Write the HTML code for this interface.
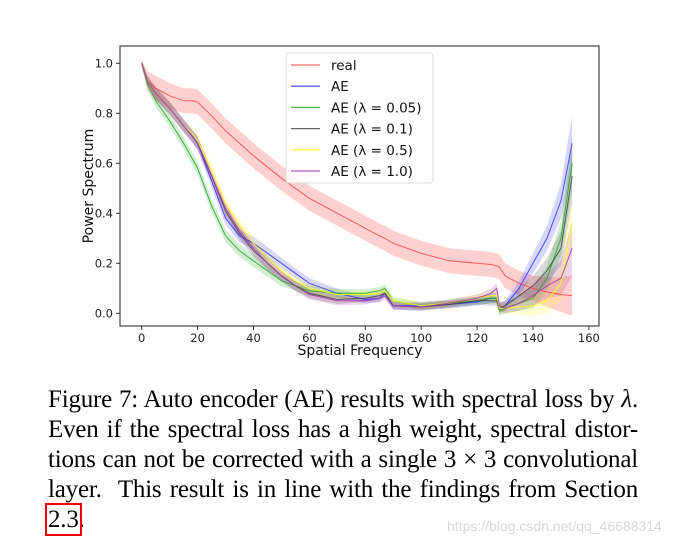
<!DOCTYPE html>
<html><head><meta charset="utf-8"><style>
body{margin:0;background:#fff;width:690px;height:550px;overflow:hidden;position:relative}
svg{position:absolute;left:0;top:0}
.cap{position:absolute;left:48px;width:590px;font-family:"Liberation Serif",serif;font-size:25px;color:#000}
.ln{height:30px;line-height:30px;text-align:justify;text-align-last:justify;white-space:nowrap;letter-spacing:-0.2px}
.ln.last{text-align-last:left}
</style></head><body>
<svg id="chart" width="690" height="380"></svg>
<div class="cap" style="top:385px">
<div class="ln">Figure 7: Auto encoder (AE) results with spectral loss by <i>λ</i>.</div>
<div class="ln">Even if the spectral loss has a high weight, spectral distor-</div>
<div class="ln">tions can not be corrected with a single 3 × 3 convolutional</div>
<div class="ln">layer.&nbsp; This result is in line with the findings from Section</div>
<div class="ln last"><span style="outline:2px solid #e00;outline-offset:1px">2.3</span>.</div>
</div>
<div style="position:absolute;left:447px;top:518px;font-family:'Liberation Sans',sans-serif;font-size:14px;color:#d8d8d8">https://blog.csdn.net/qq_46688314</div>
<script>
const freqs=[0,2,5,10,15,18,20,25,30,35,40,45,50,55,60,70,80,85,87,90,100,110,120,125,127,128,130,135,140,145,150,154];
const realVals=[1.0,0.93,0.9,0.87,0.85,0.85,0.845,0.79,0.73,0.68,0.63,0.585,0.54,0.5,0.46,0.40,0.34,0.31,0.30,0.28,0.24,0.21,0.2,0.195,0.19,0.185,0.15,0.12,0.1,0.085,0.075,0.07];
const realSpread=[0.01,0.04,0.05,0.05,0.05,0.05,0.05,0.05,0.05,0.05,0.05,0.05,0.05,0.05,0.05,0.05,0.05,0.05,0.05,0.05,0.05,0.05,0.05,0.05,0.05,0.05,0.05,0.05,0.05,0.06,0.07,0.08];
const aeVals=[1.0,0.93,0.88,0.82,0.75,0.71,0.68,0.53,0.38,0.31,0.28,0.24,0.2,0.16,0.12,0.08,0.055,0.06,0.08,0.03,0.03,0.035,0.045,0.06,0.06,0.02,0.03,0.1,0.2,0.3,0.45,0.68];
const ae005Vals=[1.0,0.92,0.85,0.77,0.68,0.62,0.58,0.43,0.31,0.25,0.21,0.17,0.13,0.11,0.09,0.08,0.08,0.09,0.1,0.05,0.03,0.04,0.05,0.06,0.06,0.01,0.02,0.04,0.06,0.14,0.3,0.6];
const ae01Vals=[1.0,0.93,0.88,0.82,0.75,0.71,0.68,0.55,0.41,0.32,0.25,0.2,0.15,0.11,0.08,0.055,0.06,0.07,0.08,0.03,0.025,0.035,0.05,0.05,0.05,0.02,0.03,0.07,0.11,0.17,0.26,0.55];
const ae05Vals=[1.0,0.93,0.88,0.82,0.75,0.72,0.69,0.57,0.44,0.35,0.28,0.22,0.17,0.13,0.1,0.075,0.075,0.08,0.09,0.05,0.03,0.04,0.06,0.07,0.07,0.02,0.02,0.025,0.03,0.05,0.12,0.36];
const ae10Vals=[1.0,0.93,0.88,0.82,0.75,0.71,0.68,0.55,0.42,0.33,0.26,0.2,0.15,0.11,0.075,0.05,0.05,0.06,0.07,0.03,0.025,0.04,0.06,0.08,0.1,0.03,0.02,0.04,0.07,0.11,0.14,0.26];
const aeSpread=[0.01,0.02,0.025,0.025,0.025,0.025,0.025,0.025,0.025,0.025,0.025,0.025,0.022,0.02,0.02,0.018,0.015,0.015,0.015,0.015,0.015,0.015,0.015,0.02,0.02,0.02,0.02,0.03,0.04,0.05,0.07,0.11];
const seriesNames=["real","AE","AE (λ = 0.05)","AE (λ = 0.1)","AE (λ = 0.5)","AE (λ = 1.0)"];
const seriesVals=[realVals,aeVals,ae005Vals,ae01Vals,ae05Vals,ae10Vals];
const seriesColors=["#ff4444","#3333ff","#22aa22","#444444","#ffff22","#aa33aa"];
const xTicks=[0,20,40,60,80,100,120,140,160];
const yTicks=[0.0,0.2,0.4,0.6,0.8,1.0];
const NS="http://www.w3.org/2000/svg";
const svg=document.getElementById('chart');
const L=120,R=599,T=46,B=326;
const xs=v=>141.7+v*2.795;
const ys=v=>313.3-v*250;
function mk(tag,attrs,parent){const e=document.createElementNS(NS,tag);for(const k in attrs)e.setAttribute(k,attrs[k]);(parent||svg).appendChild(e);return e;}
const plot=mk('g',{});


seriesVals.forEach((vals,i)=>{
  const sp=i===0?realSpread:aeSpread;
  let up=freqs.map((f,j)=>xs(f)+','+ys(vals[j]+sp[j]));
  let dn=freqs.map((f,j)=>xs(f)+','+ys(Math.max(vals[j]-sp[j],-0.01))).reverse();
  const band=mk('polygon',{points:up.concat(dn).join(' '),fill:seriesColors[i],'fill-opacity':i===0?0.25:0.2,stroke:'none'},plot);
  
  
});
seriesVals.forEach((vals,i)=>{
  const ln=mk('polyline',{points:freqs.map((f,j)=>xs(f)+','+ys(vals[j])).join(' '),fill:'none',stroke:seriesColors[i],'stroke-width':1,'stroke-opacity':0.85},plot);
  
  
});
const frame=mk('rect',{x:L,y:T,width:R-L,height:B-T,fill:'none',stroke:'#444','stroke-width':1.2});


xTicks.forEach(t=>{
  mk('line',{x1:xs(t),x2:xs(t),y1:B,y2:B+4,stroke:'#333'});
  const tx=mk('text',{x:xs(t),y:B+16,'text-anchor':'middle','font-size':11.5,'font-family':'DejaVu Sans,sans-serif',fill:'#222'});
  tx.textContent=t;
  
  
});
yTicks.forEach(t=>{
  mk('line',{x1:L-4,x2:L,y1:ys(t),y2:ys(t),stroke:'#333'});
  const tx=mk('text',{x:L-7,y:ys(t)+4,'text-anchor':'end','font-size':11.5,'font-family':'DejaVu Sans,sans-serif',fill:'#222'});
  tx.textContent=t.toFixed(1);
  
  
});
const xt=mk('text',{x:360,y:355,'text-anchor':'middle','font-size':14,'font-family':'DejaVu Sans,sans-serif',fill:'#111'});
xt.textContent='Spatial Frequency';


const yt=mk('text',{x:0,y:0,'text-anchor':'middle','font-size':14,'font-family':'DejaVu Sans,sans-serif',fill:'#111',transform:'translate(93,186) rotate(-90)'});
yt.textContent='Power Spectrum';


const lg=mk('g',{});


mk('rect',{x:286,y:53,width:147,height:130,rx:3,fill:'#fff','fill-opacity':0.85,stroke:'#ddd'},lg);
seriesNames.forEach((n,i)=>{
  const y=65+i*21.2;
  mk('line',{x1:291,x2:320,y1:y,y2:y,stroke:seriesColors[i],'stroke-width':1.3,'stroke-opacity':0.8},lg);
  const tx=mk('text',{x:331,y:y+5,'font-size':13.5,'font-family':'DejaVu Sans,sans-serif',fill:'#111'},lg);
  tx.textContent=n;
  
  
});
</script>
</body></html>
